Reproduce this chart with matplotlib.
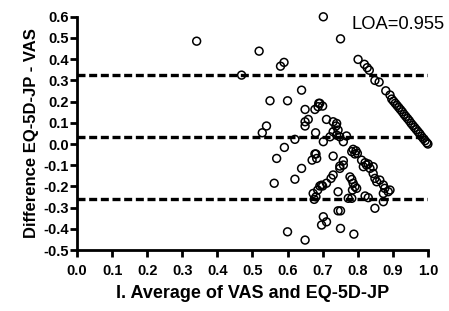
import matplotlib
matplotlib.use("Agg")
import matplotlib.pyplot as plt
import numpy as np

# Average of VAS and EQ-5D-JP (x) and difference EQ-5D-JP - VAS (y)
avg_scattered = [
    0.341, 0.469, 0.519, 0.580, 0.590, 0.702, 0.751,
    0.640, 0.550, 0.600, 0.650, 0.678, 0.689, 0.687, 0.692, 0.700,
    0.659, 0.650, 0.650, 0.540, 0.528, 0.621, 0.680, 0.591,
    0.569, 0.678, 0.683, 0.711, 0.730, 0.740, 0.738, 0.744, 0.730,
    0.740, 0.721, 0.749, 0.768, 0.759, 0.702,
    0.787, 0.795, 0.799, 0.783, 0.792, 0.730, 0.759, 0.749,
    0.811, 0.821, 0.830, 0.844, 0.816, 0.835,
    0.640, 0.670, 0.681, 0.621, 0.562, 0.673, 0.686, 0.692, 0.697,
    0.681, 0.676, 0.697, 0.600, 0.650,
    0.759, 0.749, 0.730, 0.724, 0.711, 0.700,
    0.778, 0.783, 0.787, 0.792, 0.785, 0.797,
    0.825, 0.844, 0.849, 0.854, 0.863, 0.873, 0.877, 0.892, 0.887, 0.873,
    0.744, 0.773, 0.783, 0.821, 0.830, 0.873, 0.849,
    0.744, 0.751, 0.702, 0.711, 0.751, 0.789,
]
diff_scattered = [
    0.485, 0.325, 0.438, 0.367, 0.385, 0.600, 0.496,
    0.254, 0.204, 0.204, 0.163, 0.163, 0.192, 0.176, 0.192, 0.179,
    0.116, 0.105, 0.085, 0.085, 0.053, 0.022, 0.053, -0.016,
    -0.068, -0.047, -0.068, 0.116, 0.105, 0.097, 0.085, 0.066, 0.058,
    0.042, 0.034, 0.034, 0.038, 0.011, 0.011,
    -0.025, -0.032, -0.044, -0.036, -0.047, -0.057, -0.079, -0.104,
    -0.076, -0.088, -0.094, -0.107, -0.107, -0.115,
    -0.115, -0.076, -0.047, -0.166, -0.185, -0.233, -0.217, -0.198, -0.194,
    -0.249, -0.261, -0.382, -0.414, -0.453,
    -0.099, -0.115, -0.146, -0.162, -0.185, -0.198,
    -0.155, -0.167, -0.185, -0.201, -0.217, -0.209,
    -0.099, -0.139, -0.162, -0.178, -0.170, -0.193, -0.209, -0.217, -0.225, -0.233,
    -0.225, -0.256, -0.256, -0.245, -0.253, -0.272, -0.303,
    -0.315, -0.315, -0.343, -0.367, -0.398, -0.425,
]
# Points along the upper-right diagonal
avg_diag = [0.801, 0.819, 0.827, 0.833, 0.849, 0.861, 0.880, 0.892, 0.897,
            0.902, 0.907, 0.912, 0.917, 0.922, 0.927, 0.932, 0.937, 0.942,
            0.947, 0.952, 0.957, 0.962, 0.967, 0.972, 0.977, 0.982, 0.987,
            0.992, 0.997, 1.000]
diff_diag = [0.399, 0.376, 0.360, 0.348, 0.300, 0.292, 0.251, 0.231, 0.212,
             0.202, 0.192, 0.182, 0.172, 0.162, 0.152, 0.140, 0.130, 0.120,
             0.110, 0.098, 0.088, 0.078, 0.068, 0.058, 0.048, 0.036, 0.026,
             0.016, 0.006, 0.000]

bias_lines = [0.325, 0.033, -0.258]
loa_text = "LOA=0.955"
x_ticks = [0.0, 0.1, 0.2, 0.3, 0.4, 0.5, 0.6, 0.7, 0.8, 0.9, 1.0]
y_ticks = [-0.5, -0.4, -0.3, -0.2, -0.1, 0.0, 0.1, 0.2, 0.3, 0.4, 0.5, 0.6]

plt.rcParams['font.family'] = ['Liberation Sans', 'DejaVu Sans']

fig = plt.figure(figsize=(4.49, 3.11), dpi=100)
ax = fig.add_axes([0.1715, 0.196, 0.7815, 0.75])

ax.scatter(avg_scattered + avg_diag, diff_scattered + diff_diag, s=32,
           facecolors='none', edgecolors='black', linewidths=1.1, zorder=3,
           clip_on=False)

for yv in bias_lines:
    ax.plot([0.0, 1.0], [yv, yv], color='black', lw=2.4,
            dashes=(2.4, 1.1), zorder=2)

ax.set_xlim(0.0, 1.0)
ax.set_ylim(-0.5, 0.6)
ax.set_xticks(x_ticks)
ax.set_yticks(y_ticks)
ax.set_xticklabels([f"{v:.1f}" for v in x_ticks])
ax.set_yticklabels([f"{v:.1f}" for v in y_ticks])
for lbl in ax.get_xticklabels() + ax.get_yticklabels():
    lbl.set_fontweight('bold')
    lbl.set_fontsize(10.5)

for side in ['top', 'right']:
    ax.spines[side].set_visible(False)
for side in ['left', 'bottom']:
    ax.spines[side].set_linewidth(2)
ax.tick_params(direction='out', length=5, width=2)
ax.tick_params(axis='x', pad=5)
ax.tick_params(axis='y', pad=1)

ax.set_xlabel("I. Average of VAS and EQ-5D-JP", fontsize=13,
              fontweight='bold', labelpad=5)
ax.set_ylabel("Difference EQ-5D-JP - VAS", fontsize=12,
              fontweight='bold', labelpad=3)

ax.text(1.048, 0.605, loa_text, ha='right', va='top', fontsize=13.2,
        transform=ax.transData)

fig.savefig("out.png", dpi=100)
